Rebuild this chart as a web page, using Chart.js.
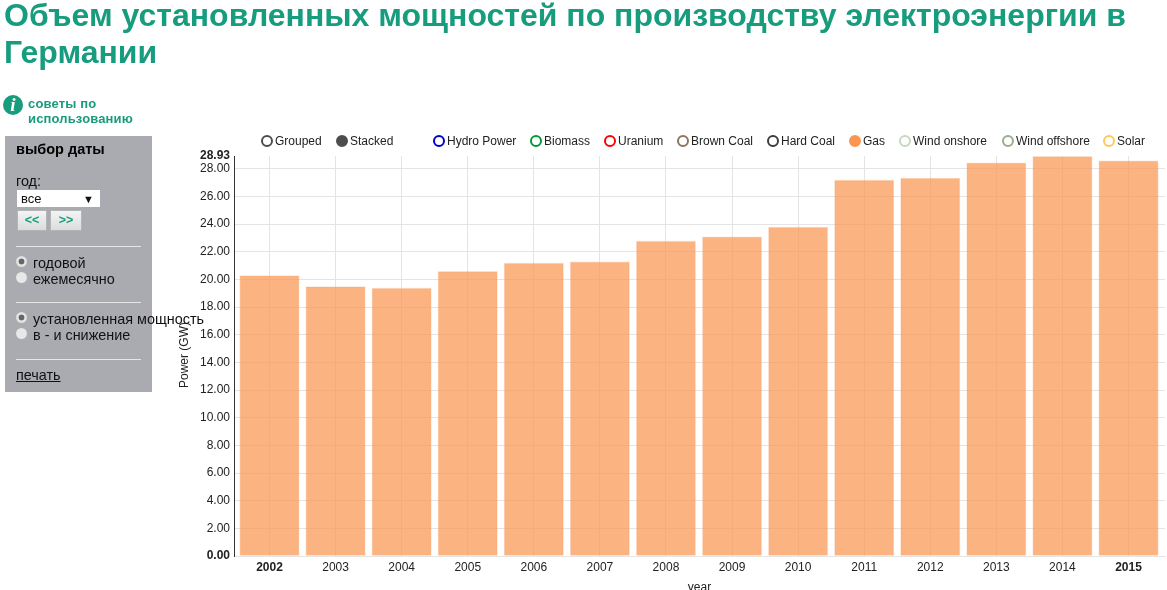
<!DOCTYPE html>
<html lang="ru">
<head>
<meta charset="utf-8">
<title>Объем установленных мощностей</title>
<script src="https://cdn.jsdelivr.net/npm/chart.js@4/dist/chart.umd.min.js"></script>
<style>
  html, body { margin: 0; padding: 0; background: #fff; overflow: hidden; }
  body { width: 1167px; height: 590px; position: relative; font-family: "Liberation Sans", Arial, sans-serif; color: #111; }
  h1 { position: absolute; left: 4px; top: -3px; width: 1150px; margin: 0; font-size: 32px; line-height: 37px; font-weight: bold; color: #179c7d; }
  .tips { position: absolute; left: 28px; top: 97px; font-size: 13px; line-height: 14.5px; font-weight: bold; color: #179c7d; letter-spacing: 0.15px; }
  .info { position: absolute; left: 3px; top: 95px; width: 20px; height: 20px; border-radius: 50%; background: #179c7d; color: #fff; font: italic bold 19px/20px "Liberation Serif", serif; text-align: center; }
  .panel { position: absolute; left: 5px; top: 136px; width: 147px; height: 256px; background: #aaabb0; font-size: 14.4px; }
  .panel > * { position: absolute; }
  .panel b { left: 11px; top: 5px; font-size: 14.5px; color: #000; }
  .panel hr { left: 11px; width: 125px; margin: 0; border: 0; border-top: 1px solid #e6e6e6; }
  .select { left: 12px; top: 54px; width: 83px; height: 17px; background: #fff; font-size: 13px; line-height: 18px; text-indent: 4px; }
  .select i { position: absolute; right: 6px; top: 0; font-style: normal; font-size: 11px; }
  .btn { top: 74px; height: 21px; box-sizing: border-box; background: linear-gradient(#f4f4f4, #dcdcdc); border: 1px solid #b5b5b5; color: #179c7d; font-size: 12.5px; font-weight: bold; line-height: 18px; text-align: center; }
  .radio { left: 11px; width: 11px; height: 11px; border-radius: 50%; background: radial-gradient(circle, #e8e8e8 60%, #cfcfcf); }
  .radio.on { background: radial-gradient(circle, #666 34%, #e8e8e8 42%, #cfcfcf); }
  .lbl { left: 28px; white-space: nowrap; }
  #chartBox { position: absolute; left: 0; top: 0; width: 1167px; height: 590px; }
  .leg { position: absolute; top: 134px; font-size: 12px; line-height: 14px; white-space: nowrap; color: #222; }
  .leg span { position: absolute; top: 1px; width: 8px; height: 8px; border-radius: 50%; border: 2px solid; }
</style>
</head>
<body>
<div id="chartBox"><canvas id="capacity-chart"></canvas></div>
<h1>Объем установленных мощностей по производству электроэнергии в Германии</h1>
<div class="info">i</div>
<div class="tips">советы по<br>использованию</div>
<div class="panel">
  <b>выбор даты</b>
  <div class="lbl" style="left:11px;top:37px">год:</div>
  <div class="select">все<i>▼</i></div>
  <div class="btn" style="left:12px;width:30px">&lt;&lt;</div>
  <div class="btn" style="left:45px;width:32px">&gt;&gt;</div>
  <hr style="top:110px">
  <div class="radio on" style="top:120px"></div><div class="lbl" style="top:119px">годовой</div>
  <div class="radio" style="top:136px"></div><div class="lbl" style="top:135px">ежемесячно</div>
  <hr style="top:166px">
  <div class="radio on" style="top:176px"></div><div class="lbl" style="top:175px">установленная мощность</div>
  <div class="radio" style="top:192px"></div><div class="lbl" style="top:191px">в - и снижение</div>
  <hr style="top:223px">
  <div class="lbl" style="left:11px;top:231px;text-decoration:underline">печать</div>
</div>
<div id="legend"></div>

<script>
// Chart data
const years = [2002, 2003, 2004, 2005, 2006, 2007, 2008, 2009, 2010, 2011, 2012, 2013, 2014, 2015];
const gasPower = [20.3, 19.5, 19.4, 20.6, 21.2, 21.3, 22.8, 23.1, 23.8, 27.2, 27.35, 28.45, 28.93, 28.6];
const powerTicks = [0, 2, 4, 6, 8, 10, 12, 14, 16, 18, 20, 22, 24, 26, 28, 28.93];

// Legend entries
const legendNames = ["Grouped", "Stacked", "Hydro Power", "Biomass", "Uranium", "Brown Coal", "Hard Coal", "Gas", "Wind onshore", "Wind offshore", "Solar"];
const legendColors = ["#4d4d4d", "#4d4d4d", "#0000cc", "#009933", "#ff0000", "#8c7560", "#3d3d3d", "#fa9650", "#c6d9bd", "#98ac8f", "#ffc85a"];
const legendLeft = [261, 336, 433, 530, 604, 677, 767, 849, 899, 1002, 1103];
const legendFilled = ["Stacked", "Gas"];

const legend = document.getElementById("legend");
legendNames.forEach((name, i) => {
  const item = document.createElement("div");
  item.className = "leg";
  item.style.left = legendLeft[i] + "px";
  const filled = legendFilled.includes(name);
  item.innerHTML = `<span style="left:0;border-color:${legendColors[i]};background:${filled ? legendColors[i] : "#fff"}"></span><div style="margin-left:14px">${name}</div>`;
  legend.appendChild(item);
});

const tickColor = "#222";
const ctx = document.getElementById("capacity-chart").getContext("2d");

new Chart(ctx, {
  type: "bar",
  data: {
    datasets: [
      {
        label: "Gas",
        data: years.map((year, i) => ({ x: year, y: gasPower[i] })),
        backgroundColor: "rgba(250, 150, 80, 0.72)",
        borderColor: "rgba(250, 150, 80, 0.15)",
        borderWidth: 1,
        barThickness: 60,
      },
    ],
  },
  options: {
    responsive: true,
    maintainAspectRatio: false,
    animation: false,
    layout: { padding: { top: 156, left: 0, right: 2, bottom: 0 } },
    plugins: { legend: { display: false }, tooltip: { enabled: false } },
    scales: {
      x: {
        type: "linear",
        offset: false,
        min: 2001.463,
        max: 2015.552,
        afterBuildTicks: (axis) => {
          axis.ticks = years.map((value) => ({ value }));
        },
        afterFit: (axis) => {
          axis.height = 34;
        },
        grid: { color: "#e4e4e4", drawTicks: false, offset: false },
        border: { color: "#e4e4e4" },
        ticks: {
          color: tickColor,
          padding: 4,
          maxRotation: 0,
          autoSkip: false,
          callback: (value) => String(value),
          font: (c) => ({
            family: "Liberation Sans",
            size: 12,
            weight: c.tick && (c.tick.value === years[0] || c.tick.value === years[years.length - 1]) ? "bold" : "normal",
          }),
        },
        title: { display: true, text: "year", color: tickColor, font: { family: "Liberation Sans", size: 12 }, padding: { top: 4, bottom: -5 } },
      },
      y: {
        min: 0,
        max: 28.93,
        afterBuildTicks: (axis) => {
          axis.ticks = powerTicks.map((value) => ({ value }));
        },
        afterFit: (axis) => {
          axis.width = 234;
        },
        grid: {
          color: (c) => (c.tick && c.tick.value === 28.93 ? "transparent" : "#e4e4e4"),
          drawTicks: false,
        },
        border: { color: "#333" },
        ticks: {
          color: tickColor,
          padding: 4,
          autoSkip: false,
          callback: (value) => value.toFixed(2),
          font: (c) => ({
            family: "Liberation Sans",
            size: 12,
            weight: c.tick && (c.tick.value === 0 || c.tick.value === 28.93) ? "bold" : "normal",
          }),
        },
        title: { display: false },
      },
    },
  },
  plugins: [
    {
      // axis title sits right up against the tick labels
      id: "powerTitle",
      afterDraw(chart) {
        const c = chart.ctx;
        c.save();
        c.translate(188, 355);
        c.rotate(-Math.PI / 2);
        c.font = "12px 'Liberation Sans'";
        c.fillStyle = tickColor;
        c.textAlign = "center";
        c.fillText("Power (GW)", 0, 0);
        c.restore();
      },
    },
  ],
});
</script>
</body>
</html>
